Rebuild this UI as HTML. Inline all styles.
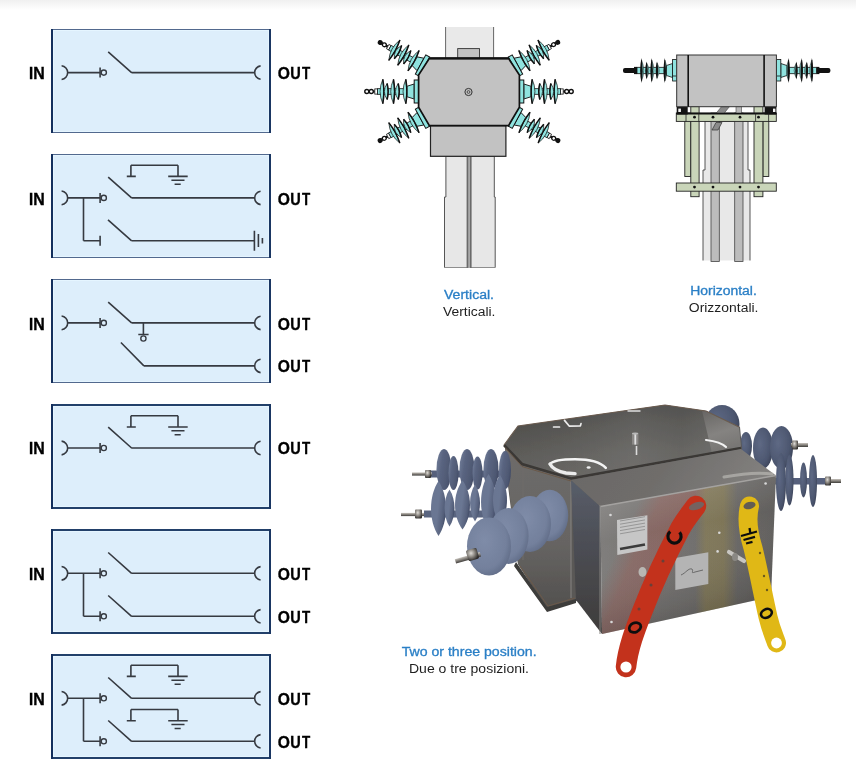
<!DOCTYPE html>
<html><head><meta charset="utf-8"><title>Switch configurations</title>
<style>
html,body{margin:0;padding:0;background:#fff;}
body{width:856px;height:773px;overflow:hidden;position:relative;font-family:"Liberation Sans",sans-serif;}
svg{position:absolute;left:0;top:0;display:block;will-change:transform;}
.lb{font-family:"Liberation Sans",sans-serif;font-weight:bold;font-size:16.7px;fill:#000;stroke:#000;stroke-width:0.35px;}
.cb{font-family:"Liberation Sans",sans-serif;font-weight:normal;font-size:12px;fill:#2a7fc6;stroke:#2a7fc6;stroke-width:0.3px;}
.cr{font-family:"Liberation Sans",sans-serif;font-size:12px;fill:#1e1e1e;}
</style></head>
<body>
<svg width="856" height="773" viewBox="0 0 856 773">
<defs>
<linearGradient id="topg" x1="0" y1="0" x2="0" y2="1"><stop offset="0" stop-color="#f0f0f0"/><stop offset="1" stop-color="#fff"/></linearGradient>
</defs>
<rect x="0" y="0" width="856" height="10" fill="url(#topg)"/>
<rect x="51" y="29" width="220" height="104" fill="#ddeefb"/><rect x="53" y="29" width="1" height="104" fill="#e5f5ff"/><rect x="268" y="29" width="1" height="104" fill="#e5f5ff"/><rect x="51" y="30" width="220" height="1" fill="#e5f5ff"/><rect x="51" y="131" width="220" height="1" fill="#e5f5ff"/><rect x="51" y="29" width="220" height="1" fill="#52698e"/><rect x="51" y="132" width="220" height="1" fill="#52698e"/><rect x="51" y="29" width="2" height="104" fill="#132f5d"/><rect x="269" y="29" width="2" height="104" fill="#1a3662"/><rect x="51" y="154" width="220" height="104" fill="#ddeefb"/><rect x="53" y="154" width="1" height="104" fill="#e5f5ff"/><rect x="268" y="154" width="1" height="104" fill="#e5f5ff"/><rect x="51" y="155" width="220" height="1" fill="#e5f5ff"/><rect x="51" y="256" width="220" height="1" fill="#e5f5ff"/><rect x="51" y="154" width="220" height="1" fill="#52698e"/><rect x="51" y="257" width="220" height="1" fill="#52698e"/><rect x="51" y="154" width="2" height="104" fill="#132f5d"/><rect x="269" y="154" width="2" height="104" fill="#1a3662"/><rect x="51" y="279" width="220" height="104" fill="#ddeefb"/><rect x="53" y="279" width="1" height="104" fill="#e5f5ff"/><rect x="268" y="279" width="1" height="104" fill="#e5f5ff"/><rect x="51" y="280" width="220" height="1" fill="#e5f5ff"/><rect x="51" y="381" width="220" height="1" fill="#e5f5ff"/><rect x="51" y="279" width="220" height="1" fill="#52698e"/><rect x="51" y="382" width="220" height="1" fill="#52698e"/><rect x="51" y="279" width="2" height="104" fill="#132f5d"/><rect x="269" y="279" width="2" height="104" fill="#1a3662"/><rect x="51" y="404" width="220" height="105" fill="#ddeefb"/><rect x="53" y="404" width="1" height="105" fill="#e5f5ff"/><rect x="268" y="404" width="1" height="105" fill="#e5f5ff"/><rect x="51" y="406" width="220" height="1" fill="#e5f5ff"/><rect x="51" y="506" width="220" height="1" fill="#e5f5ff"/><rect x="51" y="404" width="220" height="2" fill="#22406a"/><rect x="51" y="507" width="220" height="2" fill="#22406a"/><rect x="51" y="404" width="2" height="105" fill="#132f5d"/><rect x="269" y="404" width="2" height="105" fill="#1a3662"/><rect x="51" y="529" width="220" height="105" fill="#ddeefb"/><rect x="53" y="529" width="1" height="105" fill="#e5f5ff"/><rect x="268" y="529" width="1" height="105" fill="#e5f5ff"/><rect x="51" y="531" width="220" height="1" fill="#e5f5ff"/><rect x="51" y="631" width="220" height="1" fill="#e5f5ff"/><rect x="51" y="529" width="220" height="2" fill="#22406a"/><rect x="51" y="632" width="220" height="2" fill="#22406a"/><rect x="51" y="529" width="2" height="105" fill="#132f5d"/><rect x="269" y="529" width="2" height="105" fill="#1a3662"/><rect x="51" y="654" width="220" height="105" fill="#ddeefb"/><rect x="53" y="654" width="1" height="105" fill="#e5f5ff"/><rect x="268" y="654" width="1" height="105" fill="#e5f5ff"/><rect x="51" y="656" width="220" height="1" fill="#e5f5ff"/><rect x="51" y="756" width="220" height="1" fill="#e5f5ff"/><rect x="51" y="654" width="220" height="2" fill="#22406a"/><rect x="51" y="757" width="220" height="2" fill="#22406a"/><rect x="51" y="654" width="2" height="105" fill="#132f5d"/><rect x="269" y="654" width="2" height="105" fill="#1a3662"/><path d="M61.6,65.75A6.9,6.9 0 0 1 61.6,79.45M67.90,72.60L100.10,72.60M100.10,67.60L100.10,77.60M108.20,51.80L131.60,72.60M131.60,72.60L254.60,72.60M260.6,65.90A6.75,6.75 0 0 0 260.6,79.30M61.6,191.05A6.9,6.9 0 0 1 61.6,204.75M67.90,197.90L100.10,197.90M100.10,192.90L100.10,202.90M108.20,177.10L131.60,197.90M131.60,197.90L254.60,197.90M260.6,191.20A6.75,6.75 0 0 0 260.6,204.60M130.90,176.40L130.90,165.20M130.90,165.20L178.00,165.20M178.00,165.20L178.00,176.40M126.80,176.40L135.80,176.40M168.20,176.40L187.70,176.40M171.40,180.20L184.50,180.20M174.60,184.20L180.70,184.20M83.50,197.90L83.50,240.70M83.50,240.70L100.10,240.70M100.10,235.70L100.10,245.70M108.00,219.90L131.40,240.70M131.40,240.70L254.40,240.70M254.40,230.70L254.40,250.70M258.40,234.10L258.40,247.10M262.40,237.90L262.40,243.50M61.6,316.05A6.9,6.9 0 0 1 61.6,329.75M67.90,322.90L100.10,322.90M100.10,317.90L100.10,327.90M108.20,302.10L131.60,322.90M131.60,322.90L254.60,322.90M260.6,316.20A6.75,6.75 0 0 0 260.6,329.60M143.40,322.90L143.40,334.50M138.30,334.50L148.60,334.50M120.90,342.50L143.90,365.90M143.90,365.90L254.60,365.90M260.6,359.20A6.75,6.75 0 0 0 260.6,372.60M61.6,441.15A6.9,6.9 0 0 1 61.6,454.85M67.90,448.00L100.10,448.00M100.10,443.00L100.10,453.00M108.20,427.20L131.60,448.00M131.60,448.00L254.60,448.00M260.6,441.30A6.75,6.75 0 0 0 260.6,454.70M130.90,427.00L130.90,415.80M130.90,415.80L178.00,415.80M178.00,415.80L178.00,427.00M126.80,427.00L135.80,427.00M168.20,427.00L187.70,427.00M171.40,430.80L184.50,430.80M174.60,434.80L180.70,434.80M61.6,566.45A6.9,6.9 0 0 1 61.6,580.15M67.90,573.30L100.10,573.30M100.10,568.30L100.10,578.30M108.20,552.50L131.60,573.30M131.60,573.30L254.60,573.30M260.6,566.60A6.75,6.75 0 0 0 260.6,580.00M83.50,573.30L83.50,616.30M83.50,616.30L100.10,616.30M100.10,611.30L100.10,621.30M108.20,595.50L131.60,616.30M131.60,616.30L254.60,616.30M260.6,609.60A6.75,6.75 0 0 0 260.6,623.00M61.6,691.45A6.9,6.9 0 0 1 61.6,705.15M67.90,698.30L100.10,698.30M100.10,693.30L100.10,703.30M108.20,677.50L131.60,698.30M131.60,698.30L254.60,698.30M260.6,691.60A6.75,6.75 0 0 0 260.6,705.00M130.90,676.40L130.90,665.20M130.90,665.20L178.00,665.20M178.00,665.20L178.00,676.40M126.80,676.40L135.80,676.40M168.20,676.40L187.70,676.40M171.40,680.20L184.50,680.20M174.60,684.20L180.70,684.20M83.50,698.30L83.50,741.30M83.50,741.30L100.10,741.30M100.10,736.30L100.10,746.30M108.20,720.50L131.60,741.30M131.60,741.30L254.60,741.30M260.6,734.60A6.75,6.75 0 0 0 260.6,748.00M130.90,720.70L130.90,709.50M130.90,709.50L178.00,709.50M178.00,709.50L178.00,720.70M126.80,720.70L135.80,720.70M168.20,720.70L187.70,720.70M171.40,724.50L184.50,724.50M174.60,728.50L180.70,728.50" fill="none" stroke="#363a41" stroke-width="1.6" stroke-linecap="butt"/><circle cx="103.8" cy="72.60" r="2.6" fill="none" stroke="#363a41" stroke-width="1.4"/><circle cx="103.8" cy="197.90" r="2.6" fill="none" stroke="#363a41" stroke-width="1.4"/><circle cx="103.8" cy="322.90" r="2.6" fill="none" stroke="#363a41" stroke-width="1.4"/><circle cx="143.4" cy="338.50" r="2.6" fill="none" stroke="#363a41" stroke-width="1.4"/><circle cx="103.8" cy="448.00" r="2.6" fill="none" stroke="#363a41" stroke-width="1.4"/><circle cx="103.8" cy="573.30" r="2.6" fill="none" stroke="#363a41" stroke-width="1.4"/><circle cx="103.8" cy="616.30" r="2.6" fill="none" stroke="#363a41" stroke-width="1.4"/><circle cx="103.8" cy="698.30" r="2.6" fill="none" stroke="#363a41" stroke-width="1.4"/><circle cx="103.8" cy="741.30" r="2.6" fill="none" stroke="#363a41" stroke-width="1.4"/><text class="lb" transform="translate(28.89,78.70) scale(0.893,1)">I</text><text class="lb" transform="translate(33.33,78.70) scale(0.953,1)">N</text><text class="lb" transform="translate(277.72,78.70) scale(0.936,1)">O</text><text class="lb" transform="translate(290.13,78.70) scale(0.872,1)">U</text><text class="lb" transform="translate(302.00,78.70) scale(0.805,1)">T</text><text class="lb" transform="translate(28.89,204.70) scale(0.893,1)">I</text><text class="lb" transform="translate(33.33,204.70) scale(0.953,1)">N</text><text class="lb" transform="translate(277.72,204.70) scale(0.936,1)">O</text><text class="lb" transform="translate(290.13,204.70) scale(0.872,1)">U</text><text class="lb" transform="translate(302.00,204.70) scale(0.805,1)">T</text><text class="lb" transform="translate(28.89,329.60) scale(0.893,1)">I</text><text class="lb" transform="translate(33.33,329.60) scale(0.953,1)">N</text><text class="lb" transform="translate(277.72,329.60) scale(0.936,1)">O</text><text class="lb" transform="translate(290.13,329.60) scale(0.872,1)">U</text><text class="lb" transform="translate(302.00,329.60) scale(0.805,1)">T</text><text class="lb" transform="translate(277.72,371.80) scale(0.936,1)">O</text><text class="lb" transform="translate(290.13,371.80) scale(0.872,1)">U</text><text class="lb" transform="translate(302.00,371.80) scale(0.805,1)">T</text><text class="lb" transform="translate(28.89,454.20) scale(0.893,1)">I</text><text class="lb" transform="translate(33.33,454.20) scale(0.953,1)">N</text><text class="lb" transform="translate(277.72,454.20) scale(0.936,1)">O</text><text class="lb" transform="translate(290.13,454.20) scale(0.872,1)">U</text><text class="lb" transform="translate(302.00,454.20) scale(0.805,1)">T</text><text class="lb" transform="translate(28.89,580.30) scale(0.893,1)">I</text><text class="lb" transform="translate(33.33,580.30) scale(0.953,1)">N</text><text class="lb" transform="translate(277.72,580.30) scale(0.936,1)">O</text><text class="lb" transform="translate(290.13,580.30) scale(0.872,1)">U</text><text class="lb" transform="translate(302.00,580.30) scale(0.805,1)">T</text><text class="lb" transform="translate(277.72,622.50) scale(0.936,1)">O</text><text class="lb" transform="translate(290.13,622.50) scale(0.872,1)">U</text><text class="lb" transform="translate(302.00,622.50) scale(0.805,1)">T</text><text class="lb" transform="translate(28.89,704.90) scale(0.893,1)">I</text><text class="lb" transform="translate(33.33,704.90) scale(0.953,1)">N</text><text class="lb" transform="translate(277.72,704.90) scale(0.936,1)">O</text><text class="lb" transform="translate(290.13,704.90) scale(0.872,1)">U</text><text class="lb" transform="translate(302.00,704.90) scale(0.805,1)">T</text><text class="lb" transform="translate(277.72,747.55) scale(0.936,1)">O</text><text class="lb" transform="translate(290.13,747.55) scale(0.872,1)">U</text><text class="lb" transform="translate(302.00,747.55) scale(0.805,1)">T</text>
<defs><g id="ins"><path d="M-54,0L-44,0" stroke="#111" stroke-width="2"/><circle cx="-52" cy="0" r="2" fill="#fff" stroke="#111" stroke-width="1.4"/><circle cx="-47.5" cy="0" r="2" fill="#fff" stroke="#111" stroke-width="1.4"/><rect x="-44" y="-2.6" width="2.6" height="5.2" fill="#fff" stroke="#111" stroke-width="0.8"/><rect x="-41.4" y="-2.8" width="30" height="5.6" fill="#8fe3df" stroke="#111" stroke-width="0.8"/><path d="M-36,-12.2Q-41.5,0 -36,12.2Q-34,0 -36,-12.2Z" fill="#8fe3df" stroke="#111" stroke-width="0.7"/><path d="M-36,-12.2Q-33.8,0 -36,12.2" fill="none" stroke="#111" stroke-width="1.5"/><path d="M-31.7,-8Q-37.2,0 -31.7,8Q-29.7,0 -31.7,-8Z" fill="#8fe3df" stroke="#111" stroke-width="0.7"/><path d="M-31.7,-8Q-29.5,0 -31.7,8" fill="none" stroke="#111" stroke-width="1.5"/><path d="M-25.3,-12.2Q-30.8,0 -25.3,12.2Q-23.3,0 -25.3,-12.2Z" fill="#8fe3df" stroke="#111" stroke-width="0.7"/><path d="M-25.3,-12.2Q-23.1,0 -25.3,12.2" fill="none" stroke="#111" stroke-width="1.5"/><path d="M-20.6,-8Q-26.1,0 -20.6,8Q-18.6,0 -20.6,-8Z" fill="#8fe3df" stroke="#111" stroke-width="0.7"/><path d="M-20.6,-8Q-18.400000000000002,0 -20.6,8" fill="none" stroke="#111" stroke-width="1.5"/><path d="M-13,-12.2Q-18.5,0 -13,12.2Q-11,0 -13,-12.2Z" fill="#8fe3df" stroke="#111" stroke-width="0.7"/><path d="M-13,-12.2Q-10.8,0 -13,12.2" fill="none" stroke="#111" stroke-width="1.5"/><path d="M-11.6,-5.3L-5,-7.4L-4.6,-7.4L-4.6,7.4L-5,7.4L-11.6,5.3Z" fill="#8fe3df" stroke="#111" stroke-width="0.9"/><rect x="-4.6" y="-11.5" width="4.6" height="23" fill="#8fe3df" stroke="#111" stroke-width="1"/></g><g id="insd"><path d="M-55,0L-44,0" stroke="#111" stroke-width="2.6"/><circle cx="-53" cy="0" r="2.6" fill="#111"/><circle cx="-48" cy="0" r="2" fill="#fff" stroke="#111" stroke-width="1.3"/><rect x="-44" y="-2.6" width="2.6" height="5.2" fill="#fff" stroke="#111" stroke-width="0.8"/><rect x="-41.4" y="-2.8" width="30" height="5.6" fill="#8fe3df" stroke="#111" stroke-width="0.8"/><path d="M-36,-12.2Q-41.5,0 -36,12.2Q-34,0 -36,-12.2Z" fill="#8fe3df" stroke="#111" stroke-width="0.7"/><path d="M-36,-12.2Q-33.8,0 -36,12.2" fill="none" stroke="#111" stroke-width="1.5"/><path d="M-31.7,-8Q-37.2,0 -31.7,8Q-29.7,0 -31.7,-8Z" fill="#8fe3df" stroke="#111" stroke-width="0.7"/><path d="M-31.7,-8Q-29.5,0 -31.7,8" fill="none" stroke="#111" stroke-width="1.5"/><path d="M-25.3,-12.2Q-30.8,0 -25.3,12.2Q-23.3,0 -25.3,-12.2Z" fill="#8fe3df" stroke="#111" stroke-width="0.7"/><path d="M-25.3,-12.2Q-23.1,0 -25.3,12.2" fill="none" stroke="#111" stroke-width="1.5"/><path d="M-20.6,-8Q-26.1,0 -20.6,8Q-18.6,0 -20.6,-8Z" fill="#8fe3df" stroke="#111" stroke-width="0.7"/><path d="M-20.6,-8Q-18.400000000000002,0 -20.6,8" fill="none" stroke="#111" stroke-width="1.5"/><path d="M-13,-12.2Q-18.5,0 -13,12.2Q-11,0 -13,-12.2Z" fill="#8fe3df" stroke="#111" stroke-width="0.7"/><path d="M-13,-12.2Q-10.8,0 -13,12.2" fill="none" stroke="#111" stroke-width="1.5"/><path d="M-11.6,-5.3L-5,-7.4L-4.6,-7.4L-4.6,7.4L-5,7.4L-11.6,5.3Z" fill="#8fe3df" stroke="#111" stroke-width="0.9"/><rect x="-4.6" y="-11.5" width="4.6" height="23" fill="#8fe3df" stroke="#111" stroke-width="1"/></g><g id="insh"><rect x="-54" y="-2.4" width="14" height="4.8" rx="2" fill="#111"/><rect x="-43" y="-3.6" width="3" height="7.2" fill="#111"/><rect x="-40" y="-3.2" width="30" height="6.4" fill="#8fe3df" stroke="#111" stroke-width="0.8"/><path d="M-35.5,-10.625Q-31.1,0 -35.5,10.625Q-36.5,0 -35.5,-10.625Z" fill="#8fe3df" stroke="#111" stroke-width="0.5"/><path d="M-35.5,-12.5Q-38.1,0 -35.5,12.5Q-33.1,0 -35.5,-12.5Z" fill="#111"/><path d="M-30.4,-7.6499999999999995Q-26.0,0 -30.4,7.6499999999999995Q-31.4,0 -30.4,-7.6499999999999995Z" fill="#8fe3df" stroke="#111" stroke-width="0.5"/><path d="M-30.4,-9Q-33.0,0 -30.4,9Q-28.0,0 -30.4,-9Z" fill="#111"/><path d="M-25.3,-10.625Q-20.9,0 -25.3,10.625Q-26.3,0 -25.3,-10.625Z" fill="#8fe3df" stroke="#111" stroke-width="0.5"/><path d="M-25.3,-12.5Q-27.900000000000002,0 -25.3,12.5Q-22.900000000000002,0 -25.3,-12.5Z" fill="#111"/><path d="M-20,-7.6499999999999995Q-15.6,0 -20,7.6499999999999995Q-21,0 -20,-7.6499999999999995Z" fill="#8fe3df" stroke="#111" stroke-width="0.5"/><path d="M-20,-9Q-22.6,0 -20,9Q-17.6,0 -20,-9Z" fill="#111"/><path d="M-12.2,-10.625Q-7.799999999999999,0 -12.2,10.625Q-13.2,0 -12.2,-10.625Z" fill="#8fe3df" stroke="#111" stroke-width="0.5"/><path d="M-12.2,-12.5Q-14.799999999999999,0 -12.2,12.5Q-9.799999999999999,0 -12.2,-12.5Z" fill="#111"/><path d="M-10.5,-5L-4.4,-7L-4.4,7L-10.5,5Z" fill="#8fe3df" stroke="#111" stroke-width="0.8"/><rect x="-4.4" y="-11" width="4.4" height="21.5" fill="#8fe3df" stroke="#111" stroke-width="0.8"/><path d="M-4.4,5.5H0" stroke="#111" stroke-width="0.8"/></g></defs>
<rect x="445.6" y="27" width="48" height="32" fill="#e9e9e9"/>
<path d="M445.6,27V59M493.6,27V59" stroke="#666" stroke-width="1"/>
<rect x="457.7" y="48.6" width="21.8" height="10" fill="#c2c2c2" stroke="#333" stroke-width="0.9"/>
<path d="M445.9,156V197H444.5V267.7H495.2V197H494.3V156Z" fill="#e7e7e7" stroke="#555" stroke-width="1"/>
<rect x="443" y="267.8" width="54" height="3" fill="#fff"/>
<rect x="466.6" y="156" width="5" height="112" fill="#6a6a6a"/>
<rect x="468.2" y="156" width="1.8" height="112" fill="#a8a8a8"/>
<rect x="430.5" y="125.7" width="75.4" height="30.6" fill="#c2c2c2" stroke="#222" stroke-width="1.2"/>
<use href="#ins" transform="translate(418.8,91.5) rotate(0)"/>
<use href="#insd" transform="translate(424.4,66.6) rotate(28.6) scale(0.95)"/>
<use href="#insd" transform="translate(424.4,116.6) rotate(-28.4) scale(0.95)"/>
<use href="#ins" transform="translate(519.2,91.5) scale(-1,1) rotate(0)"/>
<use href="#insd" transform="translate(513.6,66.6) scale(-1,1) rotate(28.8) scale(0.95)"/>
<use href="#insd" transform="translate(513.6,116.6) scale(-1,1) rotate(-28.4) scale(0.95)"/>
<path d="M429.4,58.4H508.5L519.4,75.1V107.2L508.5,125.7H429.4L418.6,107.2V75.1Z" fill="#c2c2c2" stroke="#111" stroke-width="1.7"/>
<path d="M429.4,58.4H508.5" stroke="#111" stroke-width="2.2"/>
<circle cx="468.5" cy="92" r="3.6" fill="none" stroke="#333" stroke-width="1"/>
<circle cx="468.5" cy="92" r="1.4" fill="none" stroke="#333" stroke-width="0.8"/>
<path d="M705,121V170H703V261.5H750V170H748V121Z" fill="#e8e8e8" stroke="#444" stroke-width="0.9"/>
<rect x="702" y="260.5" width="50" height="3" fill="#fff"/>
<rect x="711" y="113" width="8.3" height="148.5" fill="#bcbcbc" stroke="#444" stroke-width="0.8"/>
<rect x="734.7" y="113" width="8.3" height="148.5" fill="#bcbcbc" stroke="#444" stroke-width="0.8"/>
<rect x="684.8" y="113" width="6.0" height="63.5" fill="#c9d5b9" stroke="#222" stroke-width="0.9"/>
<rect x="762.9" y="113" width="5.899999999999977" height="63.5" fill="#c9d5b9" stroke="#222" stroke-width="0.9"/>
<rect x="690.8" y="106.6" width="8.300000000000068" height="90.1" fill="#c9d5b9" stroke="#222" stroke-width="0.9"/>
<rect x="754" y="106.6" width="8.899999999999977" height="90.1" fill="#c9d5b9" stroke="#222" stroke-width="0.9"/>
<rect x="676.3" y="113" width="100" height="8.4" fill="#c9d5b9" stroke="#222" stroke-width="0.9"/>
<rect x="676.3" y="183" width="100" height="8.2" fill="#c9d5b9" stroke="#222" stroke-width="0.9"/>
<circle cx="694.5" cy="117.2" r="1.4" fill="#111"/>
<circle cx="713" cy="117.2" r="1.4" fill="#111"/>
<circle cx="740" cy="117.2" r="1.4" fill="#111"/>
<circle cx="758.5" cy="117.2" r="1.4" fill="#111"/>
<circle cx="694.5" cy="187.1" r="1.4" fill="#111"/>
<circle cx="713" cy="187.1" r="1.4" fill="#111"/>
<circle cx="740" cy="187.1" r="1.4" fill="#111"/>
<circle cx="758.5" cy="187.1" r="1.4" fill="#111"/>
<rect x="736" y="106.5" width="5.5" height="7" fill="#b8b8b8" stroke="#444" stroke-width="0.6"/>
<path d="M716,113.4L721.5,106.6H729.5L724,113.4Z" fill="#8a8a8a" stroke="#444" stroke-width="0.6"/>
<rect x="676.7" y="106.5" width="11" height="8" fill="#141414"/>
<rect x="764.6" y="106.5" width="11.8" height="8" fill="#141414"/>
<rect x="678.3" y="108.6" width="2.6" height="3.4" fill="#f4f4f4"/>
<rect x="773" y="108.6" width="2.4" height="3.4" fill="#f4f4f4"/>
<path d="M676.3,113.6H776.3" stroke="#111" stroke-width="1.6"/>
<path d="M686,113.4V121.4M698.8,113.4V121.4M755.6,113.4V121.4M768.6,113.4V121.4" stroke="#222" stroke-width="0.8"/>
<path d="M712,130L716,122.5H722L718,130Z" fill="#8a8a8a" stroke="#333" stroke-width="0.7"/>
<use href="#insh" transform="translate(677,70.5)"/>
<use href="#insh" transform="translate(776.4,70.5) scale(-1,1)"/>
<rect x="676.7" y="55" width="99.7" height="51.7" fill="#c2c2c2" stroke="#333" stroke-width="1"/>
<path d="M688.2,55V106.7M764.1,55V106.7" stroke="#111" stroke-width="1.6"/>
<text x="444" y="299.2" class="cb" textLength="50" lengthAdjust="spacingAndGlyphs">Vertical.</text>
<text x="443" y="316" class="cr" textLength="52.4" lengthAdjust="spacingAndGlyphs">Verticali.</text>
<text x="690.2" y="294.9" class="cb" textLength="66.6" lengthAdjust="spacingAndGlyphs">Horizontal.</text>
<text x="688.8" y="311.8" class="cr" textLength="69.7" lengthAdjust="spacingAndGlyphs">Orizzontali.</text>
<text x="401.7" y="656.1" class="cb" textLength="134.9" lengthAdjust="spacingAndGlyphs">Two or three position.</text>
<text x="409" y="673.3" class="cr" textLength="120" lengthAdjust="spacingAndGlyphs">Due o tre posizioni.</text>
<filter id="soft" x="-5%" y="-5%" width="110%" height="110%"><feGaussianBlur stdDeviation="0.45"/></filter>
<g filter="url(#soft)"><defs>
<linearGradient id="lidg" x1="0.1" y1="0" x2="0.3" y2="1">
 <stop offset="0" stop-color="#434241"/><stop offset="0.35" stop-color="#53524f"/><stop offset="0.7" stop-color="#5e5d5a"/><stop offset="1" stop-color="#63615e"/></linearGradient>
<linearGradient id="lidH" x1="0" y1="0" x2="1" y2="0">
 <stop offset="0" stop-color="#fff" stop-opacity="0"/><stop offset="0.3" stop-color="#fff" stop-opacity="0.04"/><stop offset="0.55" stop-color="#fff" stop-opacity="0.09"/><stop offset="0.75" stop-color="#fff" stop-opacity="0.05"/><stop offset="1" stop-color="#fff" stop-opacity="0.12"/></linearGradient>
<linearGradient id="lidR" x1="0" y1="0" x2="0.3" y2="1">
 <stop offset="0" stop-color="#6a6866"/><stop offset="0.6" stop-color="#8c8a88"/><stop offset="1" stop-color="#7a7876"/></linearGradient>
<linearGradient id="bodyL" x1="0" y1="0" x2="0" y2="1">
 <stop offset="0" stop-color="#6e6c6a"/><stop offset="0.6" stop-color="#666462"/><stop offset="1" stop-color="#52504e"/></linearGradient>
<linearGradient id="topF" x1="0" y1="0" x2="1" y2="0.2">
 <stop offset="0" stop-color="#6a6866"/><stop offset="0.5" stop-color="#6f6d6b"/><stop offset="0.8" stop-color="#7a7876"/><stop offset="1" stop-color="#82807e"/></linearGradient>
<linearGradient id="frontF" x1="0" y1="0" x2="1" y2="0">
 <stop offset="0" stop-color="#7c7a78"/><stop offset="0.3" stop-color="#73716f"/><stop offset="0.6" stop-color="#6c6a68"/><stop offset="1" stop-color="#5e5c5a"/></linearGradient>
<linearGradient id="redB" gradientUnits="userSpaceOnUse" x1="600" y1="540" x2="776" y2="620">
 <stop offset="0.1" stop-color="#b04a40" stop-opacity="0"/><stop offset="0.2" stop-color="#b04a40" stop-opacity="0.28"/><stop offset="0.34" stop-color="#b04a40" stop-opacity="0.3"/><stop offset="0.42" stop-color="#b04a40" stop-opacity="0"/></linearGradient>
<linearGradient id="yelB" x1="0" y1="0" x2="1" y2="0">
 <stop offset="0.54" stop-color="#a89030" stop-opacity="0"/><stop offset="0.6" stop-color="#a89030" stop-opacity="0.3"/><stop offset="0.7" stop-color="#a89030" stop-opacity="0.3"/><stop offset="0.78" stop-color="#a89030" stop-opacity="0"/></linearGradient>
<linearGradient id="frontV" x1="0" y1="0" x2="0.2" y2="1">
 <stop offset="0" stop-color="#fff" stop-opacity="0.18"/><stop offset="0.4" stop-color="#fff" stop-opacity="0.02"/><stop offset="1" stop-color="#000" stop-opacity="0.17"/></linearGradient>
<linearGradient id="sideF" x1="0" y1="0" x2="0" y2="1">
 <stop offset="0" stop-color="#585e6a"/><stop offset="0.35" stop-color="#4e5058"/><stop offset="1" stop-color="#3e3c3a"/></linearGradient>
<radialGradient id="ins1" cx="0.4" cy="0.4" r="0.7">
 <stop offset="0" stop-color="#7f8ca8"/><stop offset="0.7" stop-color="#73809c"/><stop offset="1" stop-color="#5c6782"/></radialGradient>
<linearGradient id="ins3" x1="0" y1="0.3" x2="1" y2="0.7">
 <stop offset="0" stop-color="#6a7692"/><stop offset="0.45" stop-color="#6b7793"/><stop offset="0.8" stop-color="#56617c"/><stop offset="1" stop-color="#3c4560"/></linearGradient>
<radialGradient id="ins2" cx="0.35" cy="0.4" r="0.7">
 <stop offset="0" stop-color="#5e6984"/><stop offset="0.7" stop-color="#4d5770"/><stop offset="1" stop-color="#3c4459"/></radialGradient>
<linearGradient id="ins4" x1="0" y1="0.3" x2="1" y2="0.7">
 <stop offset="0" stop-color="#6e7a96"/><stop offset="0.3" stop-color="#5a6581"/><stop offset="0.8" stop-color="#4e5872"/><stop offset="1" stop-color="#3e4762"/></linearGradient>
<radialGradient id="nut" cx="0.4" cy="0.35" r="0.7">
 <stop offset="0" stop-color="#e0ddd8"/><stop offset="0.5" stop-color="#8a8680"/><stop offset="1" stop-color="#2e2c2a"/></radialGradient>
<linearGradient id="stud" x1="0" y1="0" x2="0" y2="1">
 <stop offset="0" stop-color="#c8c4be"/><stop offset="0.45" stop-color="#8a8680"/><stop offset="1" stop-color="#3e3c3a"/></linearGradient>
</defs>
<ellipse cx="722" cy="424" rx="17.5" ry="19" fill="url(#ins2)"/>
<ellipse cx="746" cy="446" rx="6" ry="14" fill="url(#ins2)"/>
<ellipse cx="763" cy="448" rx="10" ry="20.5" fill="url(#ins2)"/>
<ellipse cx="781.5" cy="447.5" rx="11.5" ry="21.5" fill="url(#ins2)"/>
<rect x="791" y="443" width="17" height="4" fill="url(#stud)"/>
<rect x="792" y="440.5" width="6" height="9" rx="1" fill="url(#nut)"/>
<rect x="772" y="478" width="56" height="6.5" fill="#56617c"/>
<ellipse cx="781" cy="482" rx="5" ry="29" fill="url(#ins2)"/>
<ellipse cx="789.5" cy="480" rx="4" ry="25.5" fill="url(#ins2)"/>
<ellipse cx="803.5" cy="480" rx="3.5" ry="17.5" fill="url(#ins2)"/>
<ellipse cx="813" cy="481" rx="4" ry="26" fill="url(#ins2)"/>
<rect x="825" y="479" width="16" height="4" fill="url(#stud)"/>
<rect x="825" y="476.5" width="6" height="9" rx="1" fill="url(#nut)"/>
<path d="M505.0,446.0L519.0,426.0L665.0,405.0L706.0,411.0L740.0,427.0L742.0,448.0L742.0,470.0L600.0,505.0L577.0,601.0L547.0,609.0L518.0,564.0L506.0,470.0Z" fill="#5a5856" />
<path d="M505.0,447.0L522.0,465.0L571.0,479.0L571.0,598.0L547.0,609.0L518.0,564.0L508.0,480.0Z" fill="url(#bodyL)" />
<path d="M516.0,562.0L547.0,607.0L576.0,599.0L576.0,603.0L547.0,612.0L514.0,566.0Z" fill="#3e3c3a" />
<path d="M520,566L548,606L575,598" fill="none" stroke="#6e5a48" stroke-width="0.9"/>
<path d="M571,480V598" stroke="#807e7c" stroke-width="1.2"/>
<path d="M523,467V560" stroke="#6e6c6a" stroke-width="1"/>
<path d="M504.0,445.0L518.0,426.0L665.0,405.0L706.0,411.0L739.0,427.0L741.0,448.0L571.0,478.5L522.0,464.0Z" fill="url(#lidg)" />
<path d="M504.0,445.0L518.0,426.0L665.0,405.0L706.0,411.0L739.0,427.0L741.0,448.0L571.0,478.5L522.0,464.0Z" fill="url(#lidH)" />
<path d="M702.0,410.4L706.0,411.0L739.0,427.0L741.0,448.0L712.0,453.2Z" fill="url(#lidR)" opacity="0.8"/>
<path d="M504,445L522,464L571,478.5L741,448" fill="none" stroke="#3a3836" stroke-width="2.6"/>
<path d="M505,447.5L522,466.5L571,481L741,450.5" fill="none" stroke="#6b5848" stroke-width="1"/>
<path d="M504,445L518,426L665,405L706,411L739,427" fill="none" stroke="#6b5c50" stroke-width="1.1"/>
<path d="M550,464 C553,460.5 560,459.2 575,459.2 C590,459.3 600,461.5 605.8,467.8" fill="none" stroke="#f4f4f4" stroke-width="2.6" stroke-linecap="round"/>
<path d="M550,464 C552,468 558,471.5 566,473 L575,473.6" fill="none" stroke="#ececec" stroke-width="3.4" stroke-linecap="round"/>
<ellipse cx="588.6" cy="467.5" rx="2" ry="1.2" fill="#f0f0f0"/>
<path d="M553.6,427H559.5M564.5,420.4L569.4,426.2L580.4,425.8L581,423.6" fill="none" stroke="#ececec" stroke-width="1.7" stroke-linecap="round" stroke-linejoin="round"/>
<path d="M628,411H640" stroke="#e0e0e0" stroke-width="1.4" stroke-linecap="round"/>
<path d="M706,440 C714,441 722,443 726,447" fill="none" stroke="#f2f2f2" stroke-width="2.2" stroke-linecap="round"/>
<rect x="632" y="433.6" width="6.4" height="11" fill="#8a8886"/>
<rect x="634.4" y="433.6" width="1.8" height="11" fill="#e0e0e0"/>
<ellipse cx="635.2" cy="433.6" rx="3.2" ry="1.1" fill="#b8b8b8"/>
<path d="M636.5,446V455" stroke="#dcdcdc" stroke-width="1.6"/>
<path d="M571.0,480.0L600.4,506.5L602.0,634.0L576.0,600.0Z" fill="url(#sideF)" />
<path d="M571.0,480.0L741.0,449.0L776.0,475.5L600.4,506.5Z" fill="url(#topF)" />
<path d="M724,477 C740,474 758,472 772,474" fill="none" stroke="#b8b6b2" stroke-width="3" opacity="0.7" stroke-linecap="round"/>
<path d="M600.4,506.5L776.0,475.5L771.0,597.0L602.0,634.0Z" fill="url(#frontF)" />
<path d="M600.4,506.5L776.0,475.5L771.0,597.0L602.0,634.0Z" fill="url(#redB)" />
<path d="M600.4,506.5L776.0,475.5L771.0,597.0L602.0,634.0Z" fill="url(#yelB)" />
<path d="M600.4,506.5L776.0,475.5L771.0,597.0L602.0,634.0Z" fill="url(#frontV)" />
<path d="M600.4,506.5L776,475.5" stroke="#a4a2a0" stroke-width="1.4"/>
<path d="M600,505V634" stroke="#84827f" stroke-width="1"/>
<circle cx="610.5" cy="515" r="1.3" fill="#d8d8d8"/>
<circle cx="765.6" cy="483.5" r="1.3" fill="#d8d8d8"/>
<circle cx="611.5" cy="622" r="1.3" fill="#d8d8d8"/>
<circle cx="719.3" cy="532.7" r="1.3" fill="#d8d8d8"/>
<circle cx="717.6" cy="551.4" r="1.3" fill="#d8d8d8"/>
<rect x="430" y="470.5" width="78" height="7" fill="#56617c"/>
<ellipse cx="444" cy="469.5" rx="7.5" ry="20.5" fill="url(#ins4)"/>
<ellipse cx="453.5" cy="473" rx="5" ry="17" fill="url(#ins4)"/>
<ellipse cx="467" cy="469.5" rx="7.5" ry="20.5" fill="url(#ins4)"/>
<ellipse cx="477.5" cy="473" rx="5" ry="16.5" fill="url(#ins4)"/>
<ellipse cx="491" cy="469.5" rx="7.5" ry="20.5" fill="url(#ins4)"/>
<ellipse cx="505" cy="470" rx="6" ry="19" fill="url(#ins4)"/>
<rect x="412" y="472.4" width="20" height="3.2" fill="url(#stud)"/>
<rect x="425" y="470" width="6" height="8" rx="1" fill="url(#nut)"/>
<rect x="424" y="510.5" width="80" height="7" fill="#5a6580"/>
<path d="M438.5,481.0C428.525,496.125 428.525,520.875 438.5,536.0C448.475,520.875 448.475,496.125 438.5,481.0Z" fill="url(#ins3)"/>
<path d="M449.5,489.5C442.85,499.675 442.85,516.325 449.5,526.5C456.15,516.325 456.15,499.675 449.5,489.5Z" fill="url(#ins3)"/>
<path d="M462.5,480.5C452.525,493.975 452.525,516.025 462.5,529.5C472.475,516.025 472.475,493.975 462.5,480.5Z" fill="url(#ins3)"/>
<path d="M475,484.5C468.35,494.675 468.35,511.325 475,521.5C481.65,511.325 481.65,494.675 475,484.5Z" fill="url(#ins3)"/>
<path d="M488.5,474C478.525,489.4 478.525,514.6 488.5,530C498.475,514.6 498.475,489.4 488.5,474Z" fill="url(#ins3)"/>
<path d="M500,475C490.69,488.75 490.69,511.25 500,525C509.31,511.25 509.31,488.75 500,475Z" fill="url(#ins3)"/>
<rect x="401" y="512.9" width="23" height="3.2" fill="url(#stud)"/>
<rect x="415" y="509.5" width="7" height="9" rx="1" fill="url(#nut)"/>
<ellipse cx="549.7" cy="515.5" rx="18.5" ry="25.7" fill="url(#ins1)"/>
<ellipse cx="530" cy="524" rx="21" ry="28" fill="url(#ins1)"/>
<ellipse cx="508.6" cy="536" rx="20" ry="28" fill="url(#ins1)"/>
<ellipse cx="489" cy="546.4" rx="22" ry="29" fill="url(#ins1)"/>
<rect x="455" y="555.5" width="26" height="4.6" fill="url(#stud)" transform="rotate(-16 468 558)"/>
<rect x="467" y="549" width="11" height="11" rx="1.5" fill="url(#nut)" transform="rotate(-16 472.5 554.5)"/>
<path d="M617.0,520.0L647.4,515.2L647.4,549.6L617.3,555.0Z" fill="#c6c6c6" />
<path d="M620,521.0L645,516.7" stroke="#8a8a8a" stroke-width="0.8"/>
<path d="M620,524.2L645,519.9" stroke="#8a8a8a" stroke-width="0.8"/>
<path d="M620,527.4L645,523.1" stroke="#8a8a8a" stroke-width="0.8"/>
<path d="M620,530.6L645,526.3" stroke="#8a8a8a" stroke-width="0.8"/>
<path d="M620,533.8L645,529.5" stroke="#8a8a8a" stroke-width="0.8"/>
<path d="M620,549L645,544.5" stroke="#3a3a3a" stroke-width="2.6"/>
<path d="M675.3,558.0L708.3,552.2L708.3,584.0L675.3,590.0Z" fill="#b4b4b4" />
<path d="M681,575 C686,573 688,568 692,569 C694,571 690,574 695,572 L703,570" fill="none" stroke="#555" stroke-width="0.8"/>
<ellipse cx="642.5" cy="572" rx="4" ry="5" fill="#b8b6b2"/>
<path d="M729,552 L744,561" stroke="#c8c6c2" stroke-width="4.2" stroke-linecap="round"/>
<ellipse cx="735" cy="557" rx="3" ry="4" fill="#8a8884"/>
<path d="M696,506 C690,514 685,520 680,529 C670,548 655,578 642,612 C635,630 628,648 626,667" fill="none" stroke="#c3321d" stroke-width="20.5" stroke-linecap="round"/>
<ellipse cx="696.5" cy="506" rx="7.8" ry="3.8" transform="rotate(-18 696.5 506)" fill="#74625e"/>
<circle cx="626" cy="667" r="5.6" fill="#fff"/>
<circle cx="663" cy="561" r="1.5" fill="#6a4038"/>
<circle cx="651" cy="585" r="1.5" fill="#6a4038"/>
<circle cx="639" cy="609" r="1.5" fill="#6a4038"/>
<path d="M749.5,506 C746.5,518 748,532 753,548 C758,568 763,595 768,617 C771,630 775,638 776.5,643" fill="none" stroke="#e0b816" stroke-width="19" stroke-linecap="round"/>
<ellipse cx="749.5" cy="505.5" rx="6.2" ry="3.6" transform="rotate(-15 749.5 505.5)" fill="#635d52"/>
<circle cx="776.5" cy="643" r="5.4" fill="#fff"/>
<circle cx="760" cy="553" r="1.2" fill="#6a5a20"/>
<circle cx="764" cy="576" r="1.2" fill="#6a5a20"/>
<circle cx="767" cy="590" r="1.2" fill="#6a5a20"/>
<path d="M670.2,531.5 A6.6,6.6 0 1 0 679.6,532.3" fill="none" stroke="#111" stroke-width="3.2"/>
<ellipse cx="635" cy="627.5" rx="6" ry="4.6" fill="none" stroke="#111" stroke-width="2.8" transform="rotate(-25 635 627.5)"/>
<ellipse cx="766.4" cy="613.4" rx="5.6" ry="4.2" fill="none" stroke="#111" stroke-width="2.6" transform="rotate(-25 766.4 613.4)"/>
<path d="M741,536L757,531.5M743.5,540L755,536.8M746,543.5L752.5,541.8M749.5,528L750.5,534" stroke="#111" stroke-width="2.3"/></g>
</svg>
</body></html>
